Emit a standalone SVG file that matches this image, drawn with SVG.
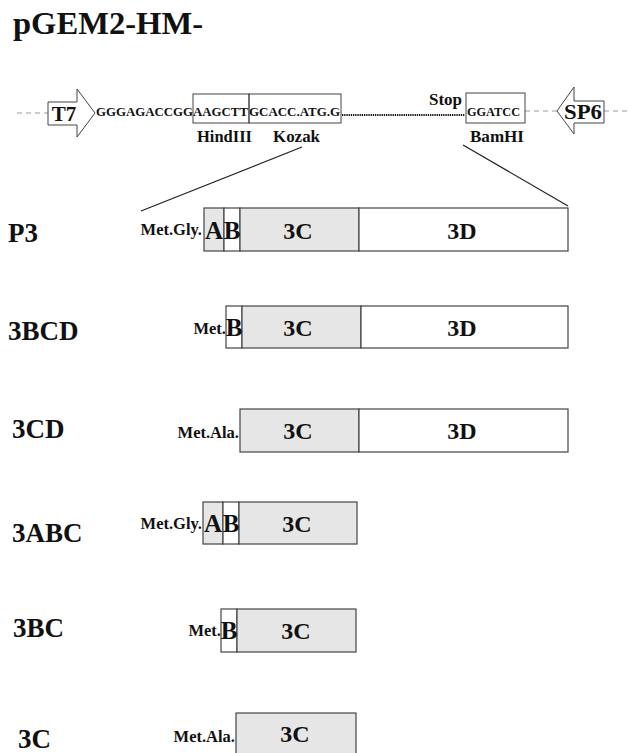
<svg xmlns="http://www.w3.org/2000/svg" width="628" height="753" viewBox="0 0 628 753">
<style>
text{font-family:"Liberation Serif","Times New Roman",serif;font-weight:bold;fill:#111}
.title{font-size:31px}
.row{font-size:27px}
.seq{font-size:12.5px}
.lab{font-size:16px}
.pre{font-size:16.5px;text-anchor:end}
.dom{font-size:24px;text-anchor:middle}
.ab{font-size:25px;text-anchor:middle}
.prom{font-size:21px;text-anchor:middle}
.g{fill:#e6e6e6;stroke:#444;stroke-width:1.2}
.w{fill:#fff;stroke:#444;stroke-width:1.2}
.box{fill:none;stroke:#444;stroke-width:1}
.dash{stroke:#999;stroke-width:1;stroke-dasharray:5,4;fill:none}
.ln{stroke:#222;stroke-width:1.2;fill:none}
.arrow{fill:#fff;stroke:#444;stroke-width:1}
</style>

<text class="title" x="13" y="34" textLength="190" lengthAdjust="spacingAndGlyphs">pGEM2-HM-</text>

<g id="construct">
  <line class="dash" x1="17" y1="113" x2="48" y2="113"/>
  <line class="dash" x1="525" y1="111" x2="557" y2="111"/>
  <line class="dash" x1="604" y1="111" x2="628" y2="111"/>
  <g id="T7">
    <polygon class="arrow" points="48,102 77,102 77,89 95,113 77,137 77,125 48,125"/>
    <text class="prom" x="64" y="121">T7</text>
  </g>
  <g id="SP6">
    <polygon class="arrow" points="604,101 574,101 574,87 557,111 574,134 574,123 604,123"/>
    <text class="prom" x="583" y="119" textLength="38" lengthAdjust="spacingAndGlyphs">SP6</text>
  </g>
  <rect class="box" x="193" y="94" width="56" height="29"/>
  <rect class="box" x="249" y="94" width="92" height="29"/>
  <rect class="box" x="466" y="93" width="59" height="30"/>
  <text class="seq" x="96" y="116" textLength="97" lengthAdjust="spacingAndGlyphs">GGGAGACCGG</text>
  <text class="seq" x="193" y="116" textLength="55" lengthAdjust="spacingAndGlyphs">AAGCTT</text>
  <text class="seq" x="249" y="116" textLength="91" lengthAdjust="spacingAndGlyphs">GCACC.ATG.G</text>
  <line x1="342" y1="115" x2="465" y2="115" stroke="#111" stroke-width="2" stroke-dasharray="1.3,0.9"/>
  <text class="seq" x="467" y="116" textLength="53" lengthAdjust="spacingAndGlyphs">GGATCC</text>
  <text class="lab" x="429" y="105" textLength="33" lengthAdjust="spacingAndGlyphs">Stop</text>
  <text class="lab" x="197" y="142" textLength="55" lengthAdjust="spacingAndGlyphs">HindIII</text>
  <text class="lab" x="273" y="142" textLength="47" lengthAdjust="spacingAndGlyphs">Kozak</text>
  <text class="lab" x="470" y="142" textLength="54" lengthAdjust="spacingAndGlyphs">BamHI</text>
</g>

<g id="connectors">
  <line class="ln" x1="302" y1="147" x2="141" y2="211"/>
  <line class="ln" x1="463" y1="145" x2="568" y2="206"/>
</g>

<g id="P3">
  <text class="row" x="8" y="242">P3</text>
  <text class="pre" x="202" y="235">Met.Gly.</text>
  <rect class="g" x="204" y="208" width="20" height="43"/>
  <rect class="w" x="224" y="208" width="16" height="43"/>
  <rect class="g" x="240" y="208" width="119" height="43"/>
  <rect class="w" x="359" y="208" width="209" height="43"/>
  <text class="ab" x="214" y="239">A</text>
  <text class="ab" x="232" y="239">B</text>
  <text class="dom" x="298" y="239">3C</text>
  <text class="dom" x="462" y="239">3D</text>
</g>

<g id="3BCD">
  <text class="row" x="8" y="340">3BCD</text>
  <text class="pre" x="226" y="334">Met.</text>
  <rect class="w" x="226" y="306" width="16" height="42"/>
  <rect class="g" x="242" y="306" width="119" height="42"/>
  <rect class="w" x="361" y="306" width="207" height="42"/>
  <text class="ab" x="234" y="336">B</text>
  <text class="dom" x="298" y="336">3C</text>
  <text class="dom" x="462" y="336">3D</text>
</g>

<g id="3CD">
  <text class="row" x="12" y="438">3CD</text>
  <text class="pre" x="239" y="438">Met.Ala.</text>
  <rect class="g" x="240" y="409" width="119" height="43"/>
  <rect class="w" x="359" y="409" width="209" height="43"/>
  <text class="dom" x="298" y="439">3C</text>
  <text class="dom" x="462" y="439">3D</text>
</g>

<g id="3ABC">
  <text class="row" x="12" y="542">3ABC</text>
  <text class="pre" x="202" y="529">Met.Gly.</text>
  <rect class="g" x="203" y="502" width="20" height="42"/>
  <rect class="w" x="223" y="502" width="16" height="42"/>
  <rect class="g" x="239" y="502" width="118" height="42"/>
  <text class="ab" x="213" y="532">A</text>
  <text class="ab" x="231" y="532">B</text>
  <text class="dom" x="297" y="532">3C</text>
</g>

<g id="3BC">
  <text class="row" x="13" y="637">3BC</text>
  <text class="pre" x="221" y="636">Met.</text>
  <rect class="w" x="221" y="609" width="16" height="43"/>
  <rect class="g" x="237" y="609" width="119" height="43"/>
  <text class="ab" x="229" y="639">B</text>
  <text class="dom" x="296" y="639">3C</text>
</g>

<g id="3C">
  <text class="row" x="18" y="748">3C</text>
  <text class="pre" x="235" y="742">Met.Ala.</text>
  <rect class="g" x="236" y="713" width="120" height="44"/>
  <text class="dom" x="295" y="742">3C</text>
</g>
</svg>
